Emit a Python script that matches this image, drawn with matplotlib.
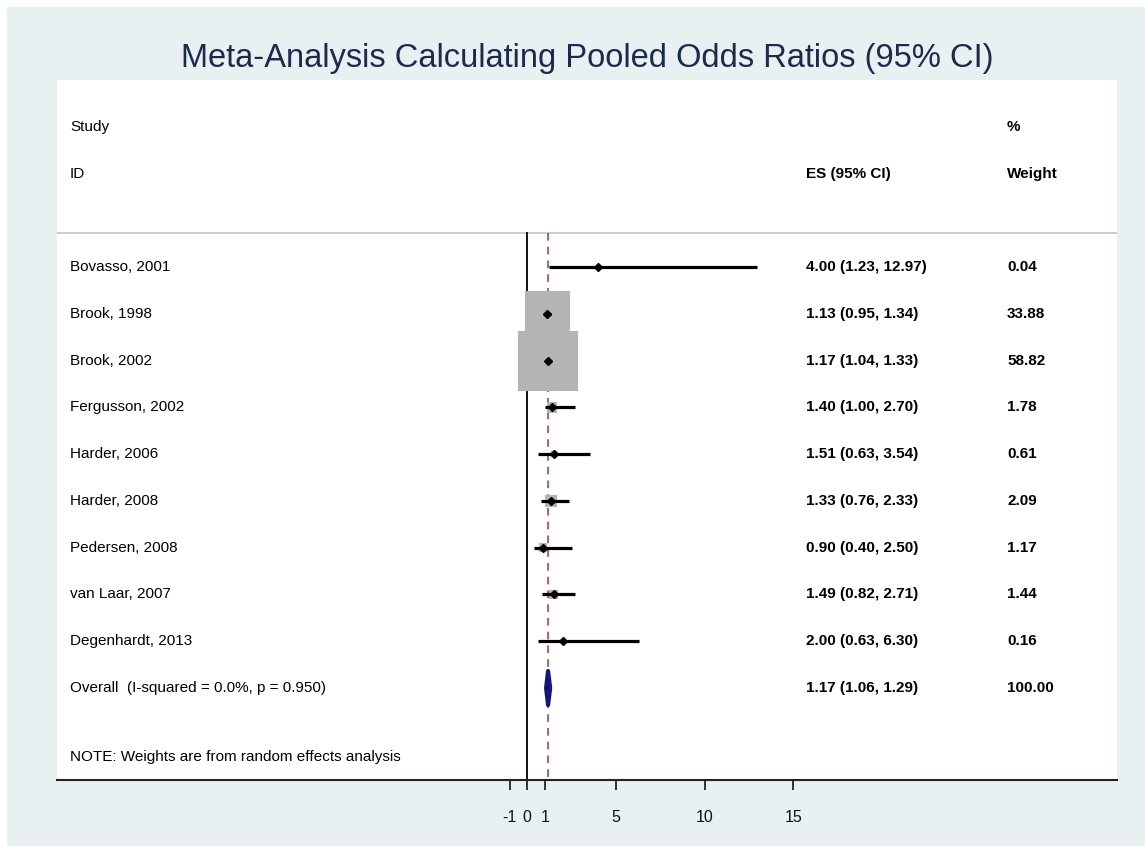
import matplotlib
matplotlib.use("Agg")
import matplotlib.pyplot as plt
from matplotlib.patches import Rectangle, Polygon

# ---- data ----
studies = ["Bovasso, 2001", "Brook, 1998", "Brook, 2002", "Fergusson, 2002",
           "Harder, 2006", "Harder, 2008", "Pedersen, 2008", "van Laar, 2007",
           "Degenhardt, 2013"]
es = [4.00, 1.13, 1.17, 1.40, 1.51, 1.33, 0.90, 1.49, 2.00]
lo = [1.23, 0.95, 1.04, 1.00, 0.63, 0.76, 0.40, 0.82, 0.63]
hi = [12.97, 1.34, 1.33, 2.70, 3.54, 2.33, 2.50, 2.71, 6.30]
weights = [0.04, 33.88, 58.82, 1.78, 0.61, 2.09, 1.17, 1.44, 0.16]
overall_label = "Overall  (I-squared = 0.0%, p = 0.950)"
overall_es, overall_lo, overall_hi = 1.17, 1.06, 1.29
overall_weight = 100.00
xticks = [-1, 0, 1, 5, 10, 15]
title = "Meta-Analysis Calculating Pooled Odds Ratios (95% CI)"
note = "NOTE: Weights are from random effects analysis"

W, H = 1145, 846
fig = plt.figure(figsize=(W / 100, H / 100), dpi=100, facecolor="white")
bg = "#E8F0F2"
fig.patches.append(Rectangle((7 / W, 0), 1 - 7 / W, 1 - 7 / H, transform=fig.transFigure,
                             facecolor=bg, edgecolor="none", zorder=-10))

ax = fig.add_axes([57 / W, 1 - 780 / H, (1117 - 57) / W, (780 - 80) / H])
ax.set_zorder(5)
ax.set_facecolor("white")
x0px, upx = 527.3, 17.73
ax.set_xlim((57 - x0px) / upx, (1117 - x0px) / upx)
row = 46.78
ax.set_ylim((780 - 267) / row, (80 - 267) / row)

for s in ["top", "left", "right"]:
    ax.spines[s].set_visible(False)
ax.spines["bottom"].set_linewidth(1.5)
ax.spines["bottom"].set_color("#222222")
ax.set_yticks([])
ax.set_xticks(xticks)
ax.set_xticklabels([str(t) for t in xticks])
ax.tick_params(axis="x", length=7.5, width=1.2, pad=14, labelsize=11.5, colors="#111111")
for lab in ax.get_xticklabels():
    lab.set_family(["Liberation Sans", "DejaVu Sans"])

sep_y = (233 - 267) / row
ybot = (780 - 267) / row
ax.axhline(sep_y, color="#C4C4C4", lw=1.2, zorder=1)
ax.plot([0, 0], [sep_y, ybot], color="black", lw=1.3, zorder=1)
ax.plot([overall_es, overall_es], [sep_y, ybot], color="#B0303C", lw=1.1,
        dashes=(5, 4), zorder=1)

n = len(studies)
ys = list(range(n))
# weight boxes: 60 px side at 58.82 %
box_pt = 60 * 0.72
sizes = [box_pt ** 2 * w / max(weights) for w in weights]
ax.scatter(es, ys, s=sizes, marker="s", color="#B4B4B4", linewidths=0, zorder=2)
ax.hlines(ys, lo, hi, color="black", lw=2.3, zorder=3)
ax.plot(es, ys, "D", color="black", ms=4.5, zorder=4)

# overall diamond
yo = n
h = 17 / row
diamond = Polygon([(overall_lo, yo), (overall_es, yo - h), (overall_hi, yo), (overall_es, yo + h)],
                  closed=True, facecolor="#14147A", edgecolor="#14147A", lw=3,
                  joinstyle="round", zorder=4)
ax.add_patch(diamond)

fam = ["Liberation Sans", "DejaVu Sans"]
tf = ax.get_yaxis_transform()
xa = lambda px: (px - 57) / 1060
fs = 11
ax.text(xa(70), (127 - 267) / row, "Study", transform=tf, va="center", fontsize=fs, family=fam)
ax.text(xa(70), (174 - 267) / row, "ID", transform=tf, va="center", fontsize=fs, family=fam)
ax.text(xa(1007), (127 - 267) / row, "%", transform=tf, va="center", fontsize=fs,
        family=fam, weight="bold")
ax.text(xa(806), (174 - 267) / row, "ES (95% CI)", transform=tf, va="center", fontsize=fs,
        family=fam, weight="bold")
ax.text(xa(1007), (174 - 267) / row, "Weight", transform=tf, va="center", fontsize=fs,
        family=fam, weight="bold")

for i in range(n):
    ax.text(xa(70), i, studies[i], transform=tf, va="center", fontsize=fs, family=fam)
    ax.text(xa(806), i, f"{es[i]:.2f} ({lo[i]:.2f}, {hi[i]:.2f})", transform=tf,
            va="center", fontsize=fs, family=fam, weight="bold")
    ax.text(xa(1007), i, f"{weights[i]:.2f}", transform=tf, va="center", fontsize=fs,
            family=fam, weight="bold")
ax.text(xa(70), n, overall_label, transform=tf, va="center", fontsize=fs, family=fam)
ax.text(xa(806), n, f"{overall_es:.2f} ({overall_lo:.2f}, {overall_hi:.2f})", transform=tf,
        va="center", fontsize=fs, family=fam, weight="bold")
ax.text(xa(1007), n, f"{overall_weight:.2f}", transform=tf, va="center", fontsize=fs,
        family=fam, weight="bold")
ax.text(xa(70), (757 - 267) / row, note, transform=tf, va="center", fontsize=fs, family=fam)

fig.text(587 / W, 1 - 58 / H, title, ha="center", va="center", fontsize=23.5,
         color="#1C2A4C", family=["Liberation Sans", "DejaVu Sans"])

fig.savefig("out.png", dpi=100, facecolor="white")
